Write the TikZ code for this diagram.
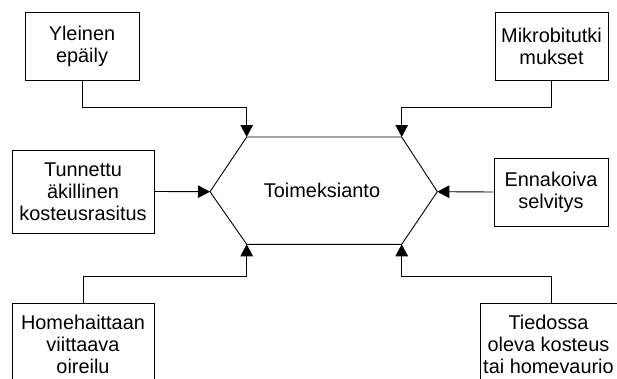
\documentclass[tikz,border=0pt]{standalone}
\usepackage{fontspec}
\setmainfont{Liberation Sans}
\usepackage{tikz}
\usetikzlibrary{arrows.meta}

\begin{document}
\begin{tikzpicture}[
  box/.style={draw,line width=0.9bp,align=center,inner sep=0pt,font=\fontsize{19.9bp}{22.2bp}\selectfont},
  link/.style={line width=0.9bp,-{Triangle[length=12bp,width=12.5bp]}},
  edge/.style={line width=0.9bp,line join=miter}]

\clip (0bp,0bp) rectangle (617bp,-379bp);

\node (yleinen) at (82bp,-46bp)[box,minimum width=114bp,minimum height=68bp] {Yleinen\\ epäily};
\node (mikro) at (551.5bp,-46bp)[box,minimum width=113bp,minimum height=68bp] {Mikrobitutki\\ mukset};
\node (tunnettu) at (83bp,-191.5bp)[box,minimum width=142bp,minimum height=83bp] {Tunnettu\\ äkillinen\\ kosteusrasitus};
\node (ennakoiva) at (551bp,-192bp)[box,minimum width=114bp,minimum height=68bp] {Ennakoiva\\ selvitys};
\node (home) at (83bp,-344.5bp)[box,minimum width=142bp,minimum height=83bp] {Homehaittaan\\ viittaava\\ oireilu};
\node (tiedossa) at (548.5bp,-344.5bp)[box,minimum width=137bp,minimum height=83bp] {Tiedossa\\ oleva kosteus\\ tai homevaurio};

\coordinate (hl) at (210bp,-191.7bp);
\coordinate (htl) at (246.7bp,-137bp);
\coordinate (htr) at (401.7bp,-137bp);
\coordinate (hr) at (437.3bp,-191.7bp);
\coordinate (hbr) at (401.7bp,-244.3bp);
\coordinate (hbl) at (246.7bp,-244.3bp);
\draw [edge] (hl) -- (htl) -- (htr) -- (hr) -- (hbr) -- (hbl) -- cycle;
\node (toimeksianto) at (322bp,-190bp)[font=\fontsize{19.9bp}{22.2bp}\selectfont] {Toimeksianto};

\draw [link] (yleinen.south) -- ++(0bp,-26.7bp) -| (htl);
\draw [link] (mikro.south) -- ++(0bp,-26.7bp) -| (htr);
\draw [link] (tunnettu.east) -- (hl);
\draw [link] (ennakoiva.west) -- (hr);
\draw [link] (home.north) -- ++(0bp,26.3bp) -| (hbl);
\draw [link] ([xshift=3.2bp]tiedossa.north) -- ++(0bp,26.3bp) -| (hbr);
\end{tikzpicture}
\end{document}
